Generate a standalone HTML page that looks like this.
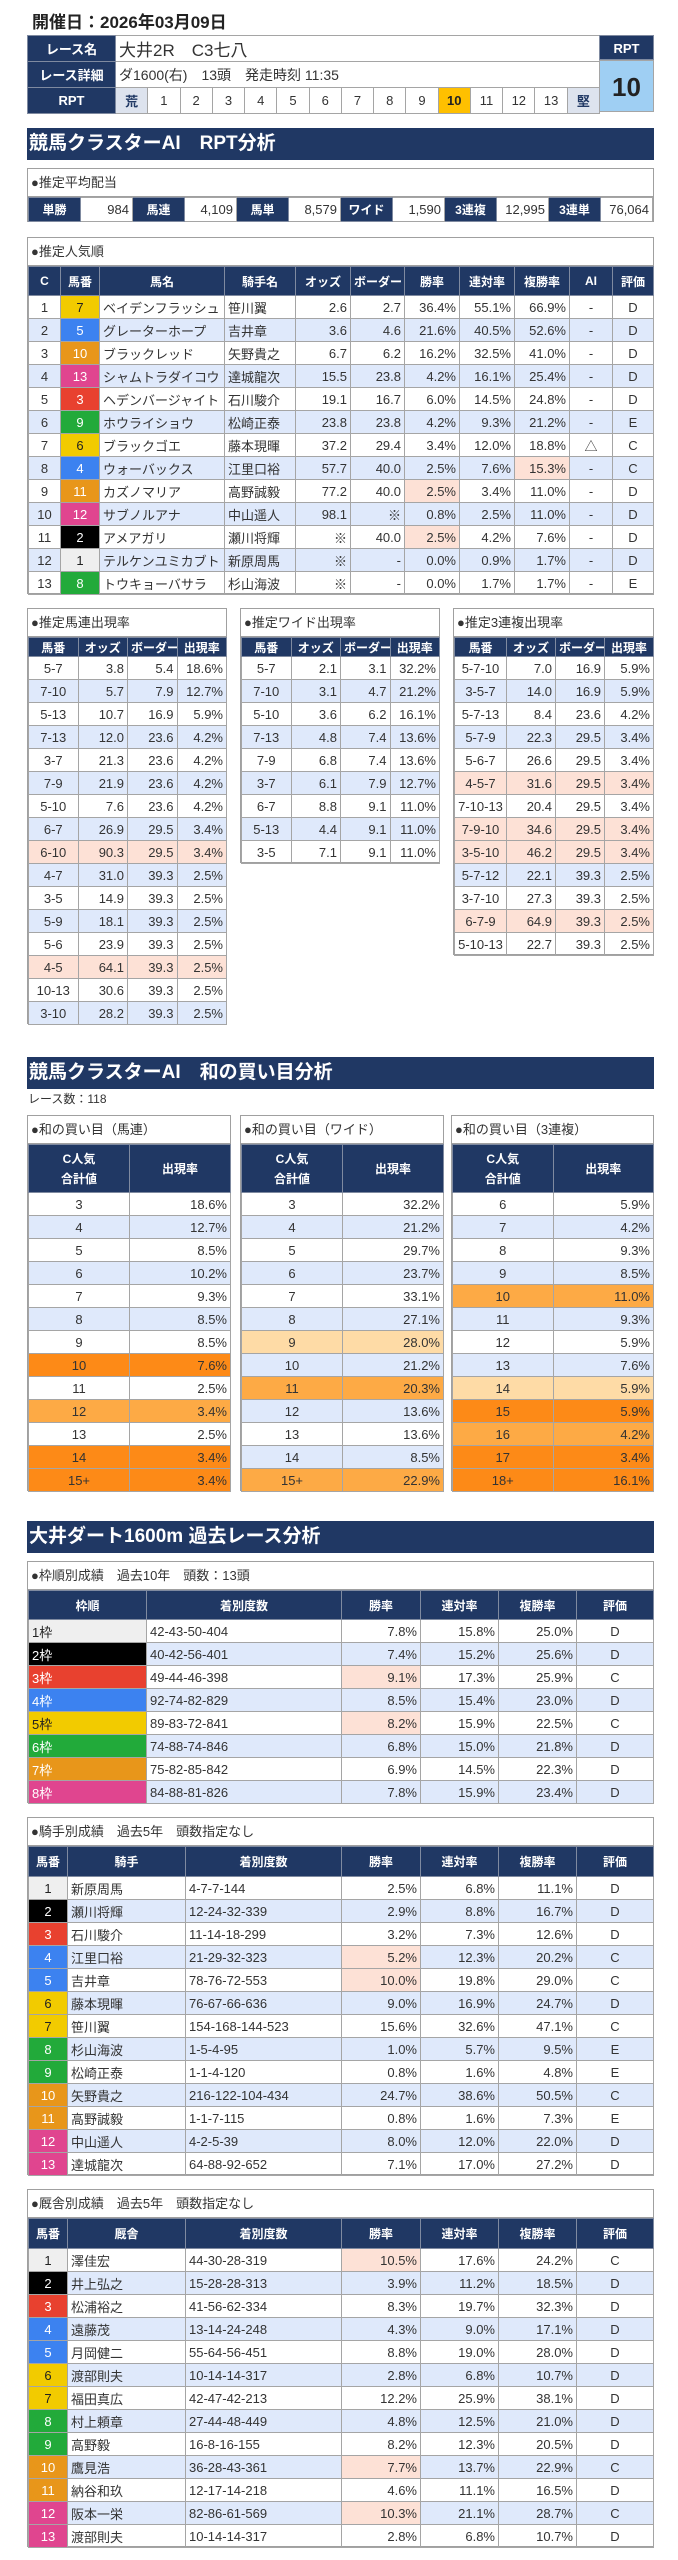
<!DOCTYPE html>
<html><head><meta charset="utf-8">
<style>
*{margin:0;padding:0;box-sizing:border-box}
body{width:678px;height:2560px;background:#fff;position:relative;font-family:"Liberation Sans","Noto Sans CJK JP",sans-serif;color:#333;overflow:hidden}
.abs{position:absolute}
table{border-collapse:collapse;table-layout:fixed}
td,th{border:1px solid #a5a5a5;font-size:13px;padding:0 3px;white-space:nowrap;overflow:hidden}
th{background:#203864;color:#fff;font-weight:bold;font-size:12px;text-align:center;border-color:#7f8aa0}
.r{text-align:right}.c{text-align:center}.l{text-align:left}
tr.b td{background:#dfe9fb}
td.p{background:#fde1d6!important}
td.D{background:#fd8a17!important}td.M{background:#fdaa45!important}td.L{background:#fedba6!important}
.bar{position:absolute;left:27px;width:627px;height:32px;background:#203864;color:#fff;font-weight:bold;font-size:19px;line-height:32px;padding-left:2px}
.box{position:absolute;border:1px solid #a0a0a0;background:#fff}
.ttl{height:28px;line-height:28px;font-size:13px;padding-left:3px;border-bottom:1px solid #a0a0a0}
td.f1{background:#efefef!important;color:#222}td.f2{background:#000!important;color:#fff}td.f3{background:#e8412f!important;color:#fff}td.f4{background:#3c82f0!important;color:#fff}td.f6{background:#f2cb00!important;color:#222}td.f8{background:#22aa3a!important;color:#fff}td.f10{background:#e8961a!important;color:#fff}td.f12{background:#e0458f!important;color:#fff}
</style></head><body>

<div class="abs" style="left:32px;top:8px;font-size:17px;font-weight:bold;color:#222">開催日：2026年03月09日</div>

<table class="abs" style="left:27px;top:35px;width:572px">
<colgroup><col style="width:88px"><col span="15" style="width:32.27px"></colgroup>
<tr style="height:25px"><th style="font-size:13px">レース名</th><td colspan="15" style="font-size:17px;color:#333">大井2R　C3七八</td></tr>
<tr style="height:26px"><th style="font-size:13px">レース詳細</th><td colspan="15" style="font-size:14px">ダ1600(右)　13頭　発走時刻 11:35</td></tr>
<tr style="height:26px"><th style="font-size:13px">RPT</th><td class="c" style="background:#dde3ee;font-weight:bold;color:#203864">荒</td><td class="c">1</td><td class="c">2</td><td class="c">3</td><td class="c">4</td><td class="c">5</td><td class="c">6</td><td class="c">7</td><td class="c">8</td><td class="c">9</td><td class="c" style="background:#ffc000;font-weight:bold;color:#222">10</td><td class="c">11</td><td class="c">12</td><td class="c">13</td><td class="c" style="background:#dde3ee;font-weight:bold;color:#203864">堅</td></tr>
</table>
<div class="abs" style="left:599px;top:35px;width:55px;height:25px;background:#203864;color:#fff;font-weight:bold;font-size:13px;text-align:center;line-height:25px;border:1px solid #7f8aa0">RPT</div>
<div class="abs" style="left:599px;top:60px;width:55px;height:52px;background:#9fcff3;color:#222;font-weight:bold;font-size:26px;text-align:center;line-height:52px;border:1px solid #a5a5a5">10</div>

<div class="bar" style="top:128px">競馬クラスターAI　RPT分析</div>

<div class="box" style="left:27px;top:168px;width:627px;height:54px">
<div class="ttl">●推定平均配当</div>
<table style="width:625px"><tr style="height:24px">
<th>単勝</th><td class="r">984</td><th>馬連</th><td class="r">4,109</td><th>馬単</th><td class="r">8,579</td><th>ワイド</th><td class="r">1,590</td><th>3連複</th><td class="r">12,995</td><th>3連単</th><td class="r">76,064</td></tr></table>
</div>

<div class="box" style="left:27px;top:237px;width:627px;height:357px">
<div class="ttl">●推定人気順</div>
<table style="width:625px">
<colgroup><col style="width:32px"><col style="width:39px"><col style="width:125px"><col style="width:71px"><col style="width:55px"><col style="width:54px"><col style="width:55px"><col style="width:55px"><col style="width:55px"><col style="width:43px"><col style="width:41px"></colgroup>
<tr style="height:29px"><th>C</th><th>馬番</th><th>馬名</th><th>騎手名</th><th>オッズ</th><th>ボーダー</th><th>勝率</th><th>連対率</th><th>複勝率</th><th>AI</th><th>評価</th></tr>
<tr style="height:23px"><td class="c">1</td><td class="c f6">7</td><td>ベイデンフラッシュ</td><td>笹川翼</td><td class="r">2.6</td><td class="r">2.7</td><td class="r">36.4%</td><td class="r">55.1%</td><td class="r">66.9%</td><td class="c">-</td><td class="c">D</td></tr>
<tr class="b" style="height:23px"><td class="c">2</td><td class="c f4">5</td><td>グレーターホープ</td><td>吉井章</td><td class="r">3.6</td><td class="r">4.6</td><td class="r">21.6%</td><td class="r">40.5%</td><td class="r">52.6%</td><td class="c">-</td><td class="c">D</td></tr>
<tr style="height:23px"><td class="c">3</td><td class="c f10">10</td><td>ブラックレッド</td><td>矢野貴之</td><td class="r">6.7</td><td class="r">6.2</td><td class="r">16.2%</td><td class="r">32.5%</td><td class="r">41.0%</td><td class="c">-</td><td class="c">D</td></tr>
<tr class="b" style="height:23px"><td class="c">4</td><td class="c f12">13</td><td>シャムトラダイコウ</td><td>達城龍次</td><td class="r">15.5</td><td class="r">23.8</td><td class="r">4.2%</td><td class="r">16.1%</td><td class="r">25.4%</td><td class="c">-</td><td class="c">D</td></tr>
<tr style="height:23px"><td class="c">5</td><td class="c f3">3</td><td>ヘデンバージャイト</td><td>石川駿介</td><td class="r">19.1</td><td class="r">16.7</td><td class="r">6.0%</td><td class="r">14.5%</td><td class="r">24.8%</td><td class="c">-</td><td class="c">D</td></tr>
<tr class="b" style="height:23px"><td class="c">6</td><td class="c f8">9</td><td>ホウライショウ</td><td>松崎正泰</td><td class="r">23.8</td><td class="r">23.8</td><td class="r">4.2%</td><td class="r">9.3%</td><td class="r">21.2%</td><td class="c">-</td><td class="c">E</td></tr>
<tr style="height:23px"><td class="c">7</td><td class="c f6">6</td><td>ブラックゴエ</td><td>藤本現暉</td><td class="r">37.2</td><td class="r">29.4</td><td class="r">3.4%</td><td class="r">12.0%</td><td class="r">18.8%</td><td class="c">△</td><td class="c">C</td></tr>
<tr class="b" style="height:23px"><td class="c">8</td><td class="c f4">4</td><td>ウォーバックス</td><td>江里口裕</td><td class="r">57.7</td><td class="r">40.0</td><td class="r">2.5%</td><td class="r">7.6%</td><td class="r p">15.3%</td><td class="c">-</td><td class="c">C</td></tr>
<tr style="height:23px"><td class="c">9</td><td class="c f10">11</td><td>カズノマリア</td><td>高野誠毅</td><td class="r">77.2</td><td class="r">40.0</td><td class="r p">2.5%</td><td class="r">3.4%</td><td class="r">11.0%</td><td class="c">-</td><td class="c">D</td></tr>
<tr class="b" style="height:23px"><td class="c">10</td><td class="c f12">12</td><td>サブノルアナ</td><td>中山遥人</td><td class="r">98.1</td><td class="r">※</td><td class="r">0.8%</td><td class="r">2.5%</td><td class="r">11.0%</td><td class="c">-</td><td class="c">D</td></tr>
<tr style="height:23px"><td class="c">11</td><td class="c f2">2</td><td>アメアガリ</td><td>瀬川将輝</td><td class="r">※</td><td class="r">40.0</td><td class="r p">2.5%</td><td class="r">4.2%</td><td class="r">7.6%</td><td class="c">-</td><td class="c">D</td></tr>
<tr class="b" style="height:23px"><td class="c">12</td><td class="c f1">1</td><td>テルケンユミカブト</td><td>新原周馬</td><td class="r">※</td><td class="r">-</td><td class="r">0.0%</td><td class="r">0.9%</td><td class="r">1.7%</td><td class="c">-</td><td class="c">D</td></tr>
<tr style="height:23px"><td class="c">13</td><td class="c f8">8</td><td>トウキョーバサラ</td><td>杉山海波</td><td class="r">※</td><td class="r">-</td><td class="r">0.0%</td><td class="r">1.7%</td><td class="r">1.7%</td><td class="c">-</td><td class="c">E</td></tr>
</table></div>

<div class="box" style="left:27px;top:608px;width:200px;height:416px">
<div class="ttl">●推定馬連出現率</div>
<table style="width:198px"><colgroup><col span="4" style="width:49.5px"></colgroup>
<tr style="height:19px"><th>馬番</th><th>オッズ</th><th>ボーダー</th><th>出現率</th></tr>
<tr style="height:23px"><td class="c">5-7</td><td class="r">3.8</td><td class="r">5.4</td><td class="r">18.6%</td></tr>
<tr class="b" style="height:23px"><td class="c">7-10</td><td class="r">5.7</td><td class="r">7.9</td><td class="r">12.7%</td></tr>
<tr style="height:23px"><td class="c">5-13</td><td class="r">10.7</td><td class="r">16.9</td><td class="r">5.9%</td></tr>
<tr class="b" style="height:23px"><td class="c">7-13</td><td class="r">12.0</td><td class="r">23.6</td><td class="r">4.2%</td></tr>
<tr style="height:23px"><td class="c">3-7</td><td class="r">21.3</td><td class="r">23.6</td><td class="r">4.2%</td></tr>
<tr class="b" style="height:23px"><td class="c">7-9</td><td class="r">21.9</td><td class="r">23.6</td><td class="r">4.2%</td></tr>
<tr style="height:23px"><td class="c">5-10</td><td class="r">7.6</td><td class="r">23.6</td><td class="r">4.2%</td></tr>
<tr class="b" style="height:23px"><td class="c">6-7</td><td class="r">26.9</td><td class="r">29.5</td><td class="r">3.4%</td></tr>
<tr style="height:23px"><td class="c p">6-10</td><td class="r p">90.3</td><td class="r p">29.5</td><td class="r p">3.4%</td></tr>
<tr class="b" style="height:23px"><td class="c">4-7</td><td class="r">31.0</td><td class="r">39.3</td><td class="r">2.5%</td></tr>
<tr style="height:23px"><td class="c">3-5</td><td class="r">14.9</td><td class="r">39.3</td><td class="r">2.5%</td></tr>
<tr class="b" style="height:23px"><td class="c">5-9</td><td class="r">18.1</td><td class="r">39.3</td><td class="r">2.5%</td></tr>
<tr style="height:23px"><td class="c">5-6</td><td class="r">23.9</td><td class="r">39.3</td><td class="r">2.5%</td></tr>
<tr class="b" style="height:23px"><td class="c p">4-5</td><td class="r p">64.1</td><td class="r p">39.3</td><td class="r p">2.5%</td></tr>
<tr style="height:23px"><td class="c">10-13</td><td class="r">30.6</td><td class="r">39.3</td><td class="r">2.5%</td></tr>
<tr class="b" style="height:23px"><td class="c">3-10</td><td class="r">28.2</td><td class="r">39.3</td><td class="r">2.5%</td></tr>
</table></div>

<div class="box" style="left:240px;top:608px;width:200px;height:255px">
<div class="ttl">●推定ワイド出現率</div>
<table style="width:198px"><colgroup><col span="4" style="width:49.5px"></colgroup>
<tr style="height:19px"><th>馬番</th><th>オッズ</th><th>ボーダー</th><th>出現率</th></tr>
<tr style="height:23px"><td class="c">5-7</td><td class="r">2.1</td><td class="r">3.1</td><td class="r">32.2%</td></tr>
<tr class="b" style="height:23px"><td class="c">7-10</td><td class="r">3.1</td><td class="r">4.7</td><td class="r">21.2%</td></tr>
<tr style="height:23px"><td class="c">5-10</td><td class="r">3.6</td><td class="r">6.2</td><td class="r">16.1%</td></tr>
<tr class="b" style="height:23px"><td class="c">7-13</td><td class="r">4.8</td><td class="r">7.4</td><td class="r">13.6%</td></tr>
<tr style="height:23px"><td class="c">7-9</td><td class="r">6.8</td><td class="r">7.4</td><td class="r">13.6%</td></tr>
<tr class="b" style="height:23px"><td class="c">3-7</td><td class="r">6.1</td><td class="r">7.9</td><td class="r">12.7%</td></tr>
<tr style="height:23px"><td class="c">6-7</td><td class="r">8.8</td><td class="r">9.1</td><td class="r">11.0%</td></tr>
<tr class="b" style="height:23px"><td class="c">5-13</td><td class="r">4.4</td><td class="r">9.1</td><td class="r">11.0%</td></tr>
<tr style="height:23px"><td class="c">3-5</td><td class="r">7.1</td><td class="r">9.1</td><td class="r">11.0%</td></tr>
</table></div>

<div class="box" style="left:453px;top:608px;width:201px;height:347px">
<div class="ttl">●推定3連複出現率</div>
<table style="width:199px"><colgroup><col style="width:52px"><col style="width:49px"><col style="width:49px"><col style="width:49px"></colgroup>
<tr style="height:19px"><th>馬番</th><th>オッズ</th><th>ボーダー</th><th>出現率</th></tr>
<tr style="height:23px"><td class="c">5-7-10</td><td class="r">7.0</td><td class="r">16.9</td><td class="r">5.9%</td></tr>
<tr class="b" style="height:23px"><td class="c">3-5-7</td><td class="r">14.0</td><td class="r">16.9</td><td class="r">5.9%</td></tr>
<tr style="height:23px"><td class="c">5-7-13</td><td class="r">8.4</td><td class="r">23.6</td><td class="r">4.2%</td></tr>
<tr class="b" style="height:23px"><td class="c">5-7-9</td><td class="r">22.3</td><td class="r">29.5</td><td class="r">3.4%</td></tr>
<tr style="height:23px"><td class="c">5-6-7</td><td class="r">26.6</td><td class="r">29.5</td><td class="r">3.4%</td></tr>
<tr class="b" style="height:23px"><td class="c p">4-5-7</td><td class="r p">31.6</td><td class="r p">29.5</td><td class="r p">3.4%</td></tr>
<tr style="height:23px"><td class="c" style="padding:0">7-10-13</td><td class="r">20.4</td><td class="r">29.5</td><td class="r">3.4%</td></tr>
<tr class="b" style="height:23px"><td class="c p">7-9-10</td><td class="r p">34.6</td><td class="r p">29.5</td><td class="r p">3.4%</td></tr>
<tr style="height:23px"><td class="c p">3-5-10</td><td class="r p">46.2</td><td class="r p">29.5</td><td class="r p">3.4%</td></tr>
<tr class="b" style="height:23px"><td class="c">5-7-12</td><td class="r">22.1</td><td class="r">39.3</td><td class="r">2.5%</td></tr>
<tr style="height:23px"><td class="c">3-7-10</td><td class="r">27.3</td><td class="r">39.3</td><td class="r">2.5%</td></tr>
<tr class="b" style="height:23px"><td class="c p">6-7-9</td><td class="r p">64.9</td><td class="r p">39.3</td><td class="r p">2.5%</td></tr>
<tr style="height:23px"><td class="c" style="padding:0">5-10-13</td><td class="r">22.7</td><td class="r">39.3</td><td class="r">2.5%</td></tr>
</table></div>

<div class="bar" style="top:1057px">競馬クラスターAI　和の買い目分析</div>
<div class="abs" style="left:28px;top:1090px;font-size:12px;color:#333">レース数：118</div>

<div class="box" style="left:27px;top:1115px;width:204px;height:376px">
<div class="ttl">●和の買い目（馬連）</div>
<table style="width:202px"><colgroup><col span="2" style="width:101px"></colgroup>
<tr style="height:48px"><th style="line-height:20px">C人気<br>合計値</th><th>出現率</th></tr>
<tr style="height:23px"><td class="c">3</td><td class="r">18.6%</td></tr>
<tr class="b" style="height:23px"><td class="c">4</td><td class="r">12.7%</td></tr>
<tr style="height:23px"><td class="c">5</td><td class="r">8.5%</td></tr>
<tr class="b" style="height:23px"><td class="c">6</td><td class="r">10.2%</td></tr>
<tr style="height:23px"><td class="c">7</td><td class="r">9.3%</td></tr>
<tr class="b" style="height:23px"><td class="c">8</td><td class="r">8.5%</td></tr>
<tr style="height:23px"><td class="c">9</td><td class="r">8.5%</td></tr>
<tr class="b" style="height:23px"><td class="c D">10</td><td class="r D">7.6%</td></tr>
<tr style="height:23px"><td class="c">11</td><td class="r">2.5%</td></tr>
<tr class="b" style="height:23px"><td class="c M">12</td><td class="r M">3.4%</td></tr>
<tr style="height:23px"><td class="c">13</td><td class="r">2.5%</td></tr>
<tr class="b" style="height:23px"><td class="c D">14</td><td class="r D">3.4%</td></tr>
<tr style="height:23px"><td class="c D">15+</td><td class="r D">3.4%</td></tr>
</table></div>

<div class="box" style="left:240px;top:1115px;width:204px;height:376px">
<div class="ttl">●和の買い目（ワイド）</div>
<table style="width:202px"><colgroup><col span="2" style="width:101px"></colgroup>
<tr style="height:48px"><th style="line-height:20px">C人気<br>合計値</th><th>出現率</th></tr>
<tr style="height:23px"><td class="c">3</td><td class="r">32.2%</td></tr>
<tr class="b" style="height:23px"><td class="c">4</td><td class="r">21.2%</td></tr>
<tr style="height:23px"><td class="c">5</td><td class="r">29.7%</td></tr>
<tr class="b" style="height:23px"><td class="c">6</td><td class="r">23.7%</td></tr>
<tr style="height:23px"><td class="c">7</td><td class="r">33.1%</td></tr>
<tr class="b" style="height:23px"><td class="c">8</td><td class="r">27.1%</td></tr>
<tr style="height:23px"><td class="c L">9</td><td class="r L">28.0%</td></tr>
<tr class="b" style="height:23px"><td class="c">10</td><td class="r">21.2%</td></tr>
<tr style="height:23px"><td class="c M">11</td><td class="r M">20.3%</td></tr>
<tr class="b" style="height:23px"><td class="c">12</td><td class="r">13.6%</td></tr>
<tr style="height:23px"><td class="c">13</td><td class="r">13.6%</td></tr>
<tr class="b" style="height:23px"><td class="c">14</td><td class="r">8.5%</td></tr>
<tr style="height:23px"><td class="c M">15+</td><td class="r M">22.9%</td></tr>
</table></div>

<div class="box" style="left:451px;top:1115px;width:203px;height:376px">
<div class="ttl">●和の買い目（3連複）</div>
<table style="width:201px"><colgroup><col span="2" style="width:100.5px"></colgroup>
<tr style="height:48px"><th style="line-height:20px">C人気<br>合計値</th><th>出現率</th></tr>
<tr style="height:23px"><td class="c">6</td><td class="r">5.9%</td></tr>
<tr class="b" style="height:23px"><td class="c">7</td><td class="r">4.2%</td></tr>
<tr style="height:23px"><td class="c">8</td><td class="r">9.3%</td></tr>
<tr class="b" style="height:23px"><td class="c">9</td><td class="r">8.5%</td></tr>
<tr style="height:23px"><td class="c M">10</td><td class="r M">11.0%</td></tr>
<tr class="b" style="height:23px"><td class="c">11</td><td class="r">9.3%</td></tr>
<tr style="height:23px"><td class="c">12</td><td class="r">5.9%</td></tr>
<tr class="b" style="height:23px"><td class="c">13</td><td class="r">7.6%</td></tr>
<tr style="height:23px"><td class="c L">14</td><td class="r L">5.9%</td></tr>
<tr class="b" style="height:23px"><td class="c D">15</td><td class="r D">5.9%</td></tr>
<tr style="height:23px"><td class="c M">16</td><td class="r M">4.2%</td></tr>
<tr class="b" style="height:23px"><td class="c D">17</td><td class="r D">3.4%</td></tr>
<tr style="height:23px"><td class="c D">18+</td><td class="r D">16.1%</td></tr>
</table></div>

<div class="bar" style="top:1521px">大井ダート1600m 過去レース分析</div>

<div class="box" style="left:27px;top:1561px;width:627px;height:242px">
<div class="ttl">●枠順別成績　過去10年　頭数：13頭</div>
<table style="width:625px"><colgroup><col style="width:118px"><col style="width:195px"><col style="width:79px"><col style="width:78px"><col style="width:78px"><col style="width:77px"></colgroup>
<tr style="height:29px"><th>枠順</th><th>着別度数</th><th>勝率</th><th>連対率</th><th>複勝率</th><th>評価</th></tr>
<tr style="height:23px"><td class="f1">1枠</td><td>42-43-50-404</td><td class="r">7.8%</td><td class="r">15.8%</td><td class="r">25.0%</td><td class="c">D</td></tr>
<tr class="b" style="height:23px"><td class="f2">2枠</td><td>40-42-56-401</td><td class="r">7.4%</td><td class="r">15.2%</td><td class="r">25.6%</td><td class="c">D</td></tr>
<tr style="height:23px"><td class="f3">3枠</td><td>49-44-46-398</td><td class="r p">9.1%</td><td class="r">17.3%</td><td class="r">25.9%</td><td class="c">C</td></tr>
<tr class="b" style="height:23px"><td class="f4">4枠</td><td>92-74-82-829</td><td class="r">8.5%</td><td class="r">15.4%</td><td class="r">23.0%</td><td class="c">D</td></tr>
<tr style="height:23px"><td class="f6">5枠</td><td>89-83-72-841</td><td class="r p">8.2%</td><td class="r">15.9%</td><td class="r">22.5%</td><td class="c">C</td></tr>
<tr class="b" style="height:23px"><td class="f8">6枠</td><td>74-88-74-846</td><td class="r">6.8%</td><td class="r">15.0%</td><td class="r">21.8%</td><td class="c">D</td></tr>
<tr style="height:23px"><td class="f10">7枠</td><td>75-82-85-842</td><td class="r">6.9%</td><td class="r">14.5%</td><td class="r">22.3%</td><td class="c">D</td></tr>
<tr class="b" style="height:23px"><td class="f12">8枠</td><td>84-88-81-826</td><td class="r">7.8%</td><td class="r">15.9%</td><td class="r">23.4%</td><td class="c">D</td></tr>
</table></div>

<div class="box" style="left:27px;top:1817px;width:627px;height:358px">
<div class="ttl">●騎手別成績　過去5年　頭数指定なし</div>
<table style="width:625px"><colgroup><col style="width:39px"><col style="width:118px"><col style="width:156px"><col style="width:79px"><col style="width:78px"><col style="width:78px"><col style="width:77px"></colgroup>
<tr style="height:30px"><th>馬番</th><th>騎手</th><th>着別度数</th><th>勝率</th><th>連対率</th><th>複勝率</th><th>評価</th></tr>
<tr style="height:23px"><td class="c f1">1</td><td>新原周馬</td><td>4-7-7-144</td><td class="r">2.5%</td><td class="r">6.8%</td><td class="r">11.1%</td><td class="c">D</td></tr>
<tr class="b" style="height:23px"><td class="c f2">2</td><td>瀬川将輝</td><td>12-24-32-339</td><td class="r">2.9%</td><td class="r">8.8%</td><td class="r">16.7%</td><td class="c">D</td></tr>
<tr style="height:23px"><td class="c f3">3</td><td>石川駿介</td><td>11-14-18-299</td><td class="r">3.2%</td><td class="r">7.3%</td><td class="r">12.6%</td><td class="c">D</td></tr>
<tr class="b" style="height:23px"><td class="c f4">4</td><td>江里口裕</td><td>21-29-32-323</td><td class="r p">5.2%</td><td class="r">12.3%</td><td class="r">20.2%</td><td class="c">C</td></tr>
<tr style="height:23px"><td class="c f4">5</td><td>吉井章</td><td>78-76-72-553</td><td class="r p">10.0%</td><td class="r">19.8%</td><td class="r">29.0%</td><td class="c">C</td></tr>
<tr class="b" style="height:23px"><td class="c f6">6</td><td>藤本現暉</td><td>76-67-66-636</td><td class="r">9.0%</td><td class="r">16.9%</td><td class="r">24.7%</td><td class="c">D</td></tr>
<tr style="height:23px"><td class="c f6">7</td><td>笹川翼</td><td>154-168-144-523</td><td class="r">15.6%</td><td class="r">32.6%</td><td class="r">47.1%</td><td class="c">C</td></tr>
<tr class="b" style="height:23px"><td class="c f8">8</td><td>杉山海波</td><td>1-5-4-95</td><td class="r">1.0%</td><td class="r">5.7%</td><td class="r">9.5%</td><td class="c">E</td></tr>
<tr style="height:23px"><td class="c f8">9</td><td>松崎正泰</td><td>1-1-4-120</td><td class="r">0.8%</td><td class="r">1.6%</td><td class="r">4.8%</td><td class="c">E</td></tr>
<tr class="b" style="height:23px"><td class="c f10">10</td><td>矢野貴之</td><td>216-122-104-434</td><td class="r">24.7%</td><td class="r">38.6%</td><td class="r">50.5%</td><td class="c">C</td></tr>
<tr style="height:23px"><td class="c f10">11</td><td>高野誠毅</td><td>1-1-7-115</td><td class="r">0.8%</td><td class="r">1.6%</td><td class="r">7.3%</td><td class="c">E</td></tr>
<tr class="b" style="height:23px"><td class="c f12">12</td><td>中山遥人</td><td>4-2-5-39</td><td class="r">8.0%</td><td class="r">12.0%</td><td class="r">22.0%</td><td class="c">D</td></tr>
<tr style="height:23px"><td class="c f12">13</td><td>達城龍次</td><td>64-88-92-652</td><td class="r">7.1%</td><td class="r">17.0%</td><td class="r">27.2%</td><td class="c">D</td></tr>
</table></div>

<div class="box" style="left:27px;top:2189px;width:627px;height:358px">
<div class="ttl">●厩舎別成績　過去5年　頭数指定なし</div>
<table style="width:625px"><colgroup><col style="width:39px"><col style="width:118px"><col style="width:156px"><col style="width:79px"><col style="width:78px"><col style="width:78px"><col style="width:77px"></colgroup>
<tr style="height:30px"><th>馬番</th><th>厩舎</th><th>着別度数</th><th>勝率</th><th>連対率</th><th>複勝率</th><th>評価</th></tr>
<tr style="height:23px"><td class="c f1">1</td><td>澤佳宏</td><td>44-30-28-319</td><td class="r p">10.5%</td><td class="r">17.6%</td><td class="r">24.2%</td><td class="c">C</td></tr>
<tr class="b" style="height:23px"><td class="c f2">2</td><td>井上弘之</td><td>15-28-28-313</td><td class="r">3.9%</td><td class="r">11.2%</td><td class="r">18.5%</td><td class="c">D</td></tr>
<tr style="height:23px"><td class="c f3">3</td><td>松浦裕之</td><td>41-56-62-334</td><td class="r">8.3%</td><td class="r">19.7%</td><td class="r">32.3%</td><td class="c">D</td></tr>
<tr class="b" style="height:23px"><td class="c f4">4</td><td>遠藤茂</td><td>13-14-24-248</td><td class="r">4.3%</td><td class="r">9.0%</td><td class="r">17.1%</td><td class="c">D</td></tr>
<tr style="height:23px"><td class="c f4">5</td><td>月岡健二</td><td>55-64-56-451</td><td class="r">8.8%</td><td class="r">19.0%</td><td class="r">28.0%</td><td class="c">D</td></tr>
<tr class="b" style="height:23px"><td class="c f6">6</td><td>渡部則夫</td><td>10-14-14-317</td><td class="r">2.8%</td><td class="r">6.8%</td><td class="r">10.7%</td><td class="c">D</td></tr>
<tr style="height:23px"><td class="c f6">7</td><td>福田真広</td><td>42-47-42-213</td><td class="r">12.2%</td><td class="r">25.9%</td><td class="r">38.1%</td><td class="c">D</td></tr>
<tr class="b" style="height:23px"><td class="c f8">8</td><td>村上頼章</td><td>27-44-48-449</td><td class="r">4.8%</td><td class="r">12.5%</td><td class="r">21.0%</td><td class="c">D</td></tr>
<tr style="height:23px"><td class="c f8">9</td><td>高野毅</td><td>16-8-16-155</td><td class="r">8.2%</td><td class="r">12.3%</td><td class="r">20.5%</td><td class="c">D</td></tr>
<tr class="b" style="height:23px"><td class="c f10">10</td><td>鷹見浩</td><td>36-28-43-361</td><td class="r p">7.7%</td><td class="r">13.7%</td><td class="r">22.9%</td><td class="c">C</td></tr>
<tr style="height:23px"><td class="c f10">11</td><td>納谷和玖</td><td>12-17-14-218</td><td class="r">4.6%</td><td class="r">11.1%</td><td class="r">16.5%</td><td class="c">D</td></tr>
<tr class="b" style="height:23px"><td class="c f12">12</td><td>阪本一栄</td><td>82-86-61-569</td><td class="r p">10.3%</td><td class="r">21.1%</td><td class="r">28.7%</td><td class="c">C</td></tr>
<tr style="height:23px"><td class="c f12">13</td><td>渡部則夫</td><td>10-14-14-317</td><td class="r">2.8%</td><td class="r">6.8%</td><td class="r">10.7%</td><td class="c">D</td></tr>
</table></div>

</body></html>
